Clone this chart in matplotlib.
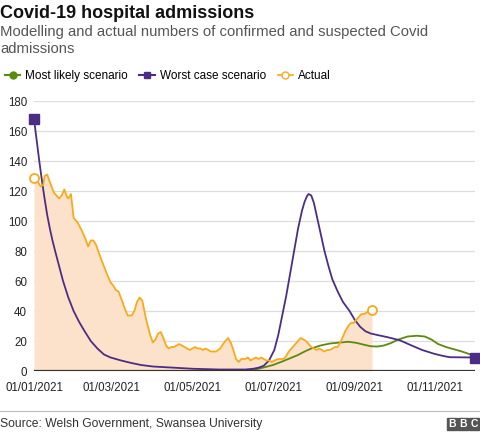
"""Covid-19 hospital admissions in Wales: modelled scenarios vs actual."""

import matplotlib

matplotlib.use("Agg")
import matplotlib.pyplot as plt
import matplotlib.dates as mdates
from matplotlib.lines import Line2D
from matplotlib.patches import Rectangle
import pandas as pd

START = pd.Timestamp("2021-01-01")

# day offsets from 1 Jan 2021 and values
worst_days = [0, 2, 4, 6, 8, 10, 12, 14, 16, 19, 22, 26, 30, 34, 38, 43, 48, 53,
              58, 66, 73, 81, 90, 100, 120, 140, 151, 160, 166, 170, 174, 178,
              182, 185, 188, 191, 194, 197, 200, 203, 205, 207, 208, 210, 212,
              215, 218, 220, 223, 226, 230, 234, 239, 243, 247, 251, 255, 260,
              268, 277, 286, 294, 303, 310, 315, 334]
worst_vals = [168, 154, 140, 127, 115, 104, 95, 87, 80, 70, 60, 49, 40, 33, 27,
              20, 15, 11, 9, 7, 5.5, 4, 3, 2.5, 1.5, 1, 1, 1, 1.5, 2.2, 3.5, 7,
              14, 24, 37, 50, 65, 80, 95, 107, 113, 117, 118, 117, 112,
              100, 88, 80, 70, 61, 53, 46, 40, 34, 29.5, 26.5, 25, 24,
              22.5, 20.5, 17, 14, 11.5, 10, 9.2, 9]

likely_days = [158, 165, 170, 176, 181, 187, 194, 200, 205, 210, 217, 224, 232,
               238, 244, 250, 255, 260, 265, 270, 276, 283, 290, 296, 301, 306,
               312, 318, 324, 329, 334]
likely_vals = [0, 0.8, 1.5, 2.8, 4, 6, 8.5, 10.7, 13, 15, 17, 18.3, 19,
               19.5, 18.8, 17.5, 16.5, 16.3, 17, 18.5, 21, 23, 23.5, 23, 21, 18,
               16, 14.5, 13, 11.5, 10]

actual_days = [0, 3, 5, 7, 8, 10, 12, 15, 17, 19, 21, 23, 25, 26, 28, 30, 33,
               36, 39, 41, 43, 45, 47, 49, 52, 56, 58, 60, 62, 64, 67, 69, 71,
               74, 76, 78, 80, 82, 85, 88, 90, 92, 94, 96, 98, 100, 102, 104,
               106, 108, 110, 112, 114, 116, 118, 120, 122, 124, 126, 128, 130,
               132, 134, 136, 138, 141, 144, 147, 149, 151, 153, 155, 157, 160,
               162, 164, 166, 168, 170, 172, 174, 176, 178, 180, 182, 185, 187,
               189, 191, 193, 195, 197, 200, 202, 204, 206, 208, 210, 212, 214,
               216, 218, 220, 222, 224, 226, 228, 230, 232, 234, 236, 238, 240,
               242, 244, 246, 248, 250, 252, 254, 256]
actual_vals = [129, 126, 123, 124, 130, 131, 126, 119, 117, 115, 117, 121, 116,
               115, 118, 102, 99, 94, 88, 83, 87, 87, 84, 79, 72, 63, 59, 57, 54,
               53, 46, 41, 37, 37, 40, 46, 49, 47, 34, 24, 19, 21, 25, 26, 22,
               17, 15, 16, 16, 17, 18, 17, 16, 15, 14, 15, 16, 15, 15, 14, 15,
               14, 13, 13, 13, 15, 19, 22, 19, 14, 8, 6, 8, 8, 9, 7, 8, 9, 8, 9,
               8, 7, 7, 6, 7, 8, 8, 8, 10, 13, 15, 17, 20, 22, 21, 20, 18, 16,
               15, 14, 15, 14, 13, 14, 14, 15, 16, 16, 19, 23, 27, 30, 32, 32,
               34, 36, 38, 38, 39, 40, 41]

x_tick_dates = ["2021-01-01", "2021-03-01", "2021-05-01", "2021-07-01",
                "2021-09-01", "2021-11-01"]
y_ticks = list(range(0, 181, 20))

PURPLE = "#4b2e83"
GREEN = "#5a8a10"
ORANGE = "#f7ab1c"
FILL = "#fde2cb"


def to_dates(days):
    return START + pd.to_timedelta(days, unit="D")


plt.rcParams["font.family"] = ["Liberation Sans", "DejaVu Sans"]

fig = plt.figure(figsize=(4.8, 4.32), dpi=100)
ax = fig.add_axes([34 / 480, 61 / 432, 441 / 480, 270 / 432])

wd, ld, ad = to_dates(worst_days), to_dates(likely_days), to_dates(actual_days)

ax.fill_between(ad, 0, actual_vals, color=FILL, lw=0, zorder=1)
ax.plot(ld, likely_vals, color=GREEN, lw=1.3, zorder=3)
ax.plot(wd, worst_vals, color=PURPLE, lw=1.3, zorder=4)
ax.plot(ad, actual_vals, color=ORANGE, lw=1.3, zorder=5)
ax.plot([wd[0], wd[-1]], [worst_vals[0], worst_vals[-1]], ls="none", marker="s",
        ms=7, color=PURPLE, zorder=6, clip_on=False)
ax.plot([ad[0], ad[-1]], [actual_vals[0], actual_vals[-1]], ls="none", marker="o",
        ms=6.5, mfc="white", mec=ORANGE, mew=1.3, zorder=7, clip_on=False)

ax.axhline(0, color="#333333", lw=1.6, zorder=8)
ax.set_ylim(0, 180)
ax.set_xlim(START, pd.Timestamp("2021-12-01"))
ax.set_yticks(y_ticks)
ax.set_xticks(pd.to_datetime(x_tick_dates))
ax.xaxis.set_major_formatter(mdates.DateFormatter("%d/%m/%Y"))
ax.tick_params(length=0, labelsize=8.3, colors="#222222")
ax.tick_params(axis="x", pad=8)
ax.tick_params(axis="y", pad=5)
ax.grid(axis="y", color="#dddddd", lw=0.9)
ax.set_axisbelow(True)
for side in ax.spines.values():
    side.set_visible(False)

fig.text(0, 1 - 14 / 432, "Covid-19 hospital admissions", fontsize=13,
         fontweight="bold", va="center", color="#111111")
fig.text(0, 1 - 32 / 432, "Modelling and actual numbers of confirmed and suspected Covid",
         fontsize=10.7, va="center", color="#555555")
fig.text(0, 1 - 49 / 432, "admissions", fontsize=10.7, va="center", color="#555555")

handles = [
    Line2D([], [], color=GREEN, lw=1.5, marker="o", ms=5),
    Line2D([], [], color=PURPLE, lw=1.5, marker="s", ms=5),
    Line2D([], [], color=ORANGE, lw=1.2, marker="o", ms=5, mfc="white", mec=ORANGE),
]
fig.legend(handles, ["Most likely scenario", "Worst case scenario", "Actual"],
           loc="center left", bbox_to_anchor=(-0.012, 1 - 76 / 432), ncol=3,
           frameon=False, fontsize=8.5, handlelength=1.3, handletextpad=0.4,
           columnspacing=1.0)

fig.add_artist(Line2D([0, 1], [1 - 411 / 432, 1 - 411 / 432], color="#bbbbbb",
                      lw=0.8, transform=fig.transFigure))
fig.text(0, 1 - 424 / 432, "Source: Welsh Government, Swansea University",
         fontsize=8.7, va="center", color="#333333")

for i, letter in enumerate("BBC"):
    x0 = (447 + i * 11) / 480
    fig.add_artist(Rectangle((x0, 2 / 432), 10 / 480, 12 / 432,
                             transform=fig.transFigure, color="#555555"))
    fig.text(x0 + 5 / 480, 8 / 432, letter, fontsize=7.5, fontweight="bold",
             color="white", ha="center", va="center")

fig.savefig("out.png", dpi=100)
